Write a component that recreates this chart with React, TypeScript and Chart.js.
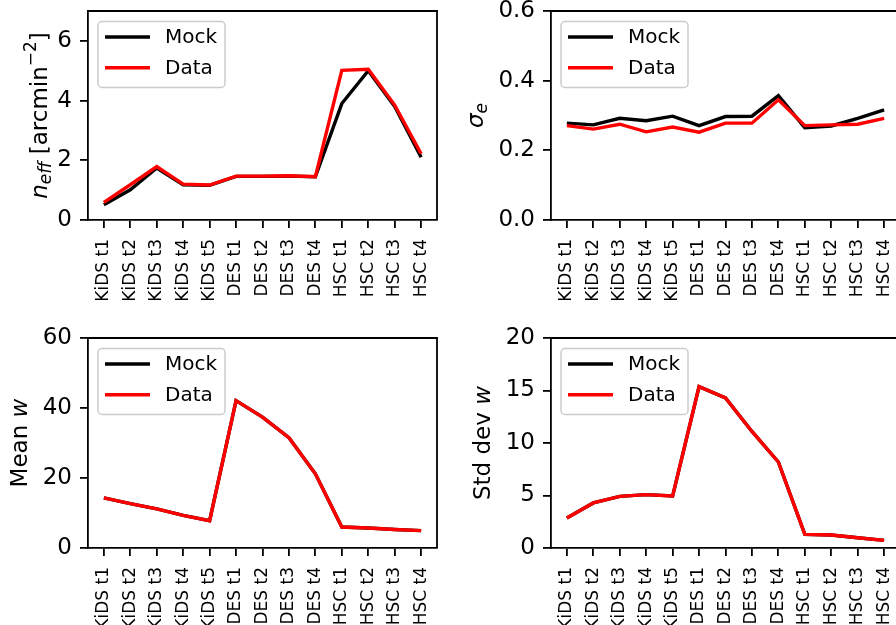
import React, { useEffect, useRef } from 'react';
import { Chart, registerables } from 'chart.js';

Chart.register(...registerables);

const FONT = "'DejaVu Sans', 'Liberation Sans', sans-serif";

const categories = [
  'KiDS t1', 'KiDS t2', 'KiDS t3', 'KiDS t4', 'KiDS t5',
  'DES t1', 'DES t2', 'DES t3', 'DES t4',
  'HSC t1', 'HSC t2', 'HSC t3', 'HSC t4',
];

const neffMock = [0.51, 1.01, 1.74, 1.18, 1.16, 1.46, 1.46, 1.47, 1.45, 3.9, 5.0, 3.8, 2.1];
const neffData = [0.59, 1.18, 1.79, 1.2, 1.17, 1.47, 1.47, 1.48, 1.45, 5.01, 5.05, 3.85, 2.22];
const neffTicks = [0, 2, 4, 6];

const sigmaMock = [0.278, 0.273, 0.292, 0.285, 0.298, 0.271, 0.297, 0.298, 0.357, 0.265, 0.27, 0.292, 0.316];
const sigmaData = [0.271, 0.261, 0.275, 0.253, 0.267, 0.252, 0.278, 0.278, 0.345, 0.271, 0.273, 0.275, 0.292];
const sigmaTicks = [0, 0.2, 0.4, 0.6];

const meanWMock = [14.3, 12.7, 11.2, 9.3, 7.8, 42.1, 37.4, 31.5, 21.2, 6.0, 5.7, 5.3, 4.95];
const meanWData = [14.3, 12.7, 11.2, 9.3, 7.8, 42.1, 37.4, 31.5, 21.2, 6.0, 5.7, 5.3, 4.95];
const meanWTicks = [0, 20, 40, 60];

const stdWMock = [2.86, 4.29, 4.92, 5.08, 4.95, 15.37, 14.29, 11.1, 8.19, 1.3, 1.24, 0.98, 0.73];
const stdWData = [2.86, 4.29, 4.92, 5.08, 4.95, 15.37, 14.29, 11.1, 8.19, 1.3, 1.24, 0.98, 0.73];
const stdWTicks = [0, 5, 10, 15, 20];

const seriesLabels = ['Mock', 'Data'];
const seriesColors = ['#000000', '#ff0000'];

type Part = { text: string; italic?: boolean; size?: number; shift?: number };

interface PanelProps {
  left: number;
  top: number;
  width: number;
  height: number;
  yAxisW: number;
  xAxisH: number;
  padTop: number;
  padRight: number;
  yMin: number;
  yMax: number;
  yTicks: number[];
  decimals: number;
  mock: number[];
  data: number[];
  title: Part[];
  titleX: number;
}

function Panel(p: PanelProps) {
  const ref = useRef<HTMLCanvasElement>(null);

  useEffect(() => {
    const canvas = ref.current;
    if (!canvas) return;

    const decorPlugin = {
      id: 'decor',
      afterDraw(chart: any) {
        const ctx = chart.ctx as CanvasRenderingContext2D;
        const a = chart.chartArea;
        ctx.save();
        // top & right spines
        ctx.strokeStyle = '#000';
        ctx.lineWidth = 1.8;
        ctx.beginPath();
        ctx.moveTo(a.left, a.top);
        ctx.lineTo(a.right, a.top);
        ctx.lineTo(a.right, a.bottom);
        ctx.stroke();

        // legend
        const bx = a.left + 10;
        const by = a.top + 10.5;
        const bw = 127;
        const bh = 66;
        ctx.beginPath();
        (ctx as any).roundRect(bx, by, bw, bh, 4);
        ctx.fillStyle = 'rgba(255,255,255,0.8)';
        ctx.fill();
        ctx.strokeStyle = '#cccccc';
        ctx.lineWidth = 1.5;
        ctx.stroke();
        chart.data.datasets.forEach((ds: any, i: number) => {
          const ly = by + 15.5 + i * 30.7;
          ctx.beginPath();
          ctx.strokeStyle = ds.borderColor;
          ctx.lineWidth = 3.4;
          ctx.moveTo(bx + 7, ly);
          ctx.lineTo(bx + 52, ly);
          ctx.stroke();
          ctx.fillStyle = '#000';
          ctx.font = `20px ${FONT}`;
          ctx.textAlign = 'left';
          ctx.textBaseline = 'middle';
          ctx.fillText(ds.label, bx + 67, ly + 1);
        });

        // y-axis title (rotated)
        const fontFor = (pt: Part) => `${pt.italic ? 'italic ' : ''}${pt.size ?? 23}px ${FONT}`;
        let total = 0;
        p.title.forEach((pt) => {
          ctx.font = fontFor(pt);
          total += ctx.measureText(pt.text).width;
        });
        const cy = (a.top + a.bottom) / 2;
        ctx.translate(p.titleX, cy);
        ctx.rotate(-Math.PI / 2);
        ctx.textAlign = 'left';
        ctx.textBaseline = 'alphabetic';
        ctx.fillStyle = '#000';
        let x = -total / 2;
        p.title.forEach((pt) => {
          ctx.font = fontFor(pt);
          ctx.fillText(pt.text, x, pt.shift ?? 0);
          x += ctx.measureText(pt.text).width;
        });
        ctx.restore();
      },
    };

    const series = [p.mock, p.data];
    const chart = new Chart(canvas, {
      type: 'line',
      data: {
        datasets: series.map((vals, si) => ({
          label: seriesLabels[si],
          data: vals.map((v, i) => ({ x: i, y: v })),
          borderColor: seriesColors[si],
          backgroundColor: seriesColors[si],
          borderWidth: 3.4,
          pointRadius: 0,
          tension: 0,
          fill: false,
          order: si === 0 ? 1 : 0,
        })),
      },
      options: {
        responsive: false,
        animation: false,
        events: [],
        layout: { padding: { top: p.padTop, right: p.padRight, left: 0, bottom: 0 } },
        plugins: { legend: { display: false }, tooltip: { enabled: false } },
        scales: {
          x: {
            type: 'linear',
            min: -0.6,
            max: 12.6,
            afterBuildTicks: (s: any) => {
              s.ticks = categories.map((_, i) => ({ value: i }));
            },
            afterFit: (s: any) => {
              s.height = p.xAxisH;
              s.paddingLeft = 0;
              s.paddingRight = 0;
            },
            ticks: {
              autoSkip: false,
              minRotation: 90,
              maxRotation: 90,
              padding: 11,
              color: '#000',
              font: { family: FONT, size: 17 },
              callback: (v: any) => categories[Math.round(Number(v))],
            },
            grid: {
              display: true,
              drawOnChartArea: false,
              drawTicks: true,
              tickLength: 8,
              color: '#000',
              lineWidth: 1.8,
            },
            border: { display: true, color: '#000', width: 1.8 },
          },
          y: {
            type: 'linear',
            min: p.yMin,
            max: p.yMax,
            afterBuildTicks: (s: any) => {
              s.ticks = p.yTicks.map((v) => ({ value: v }));
            },
            afterFit: (s: any) => {
              s.width = p.yAxisW;
              s.paddingTop = 0;
              s.paddingBottom = 0;
            },
            ticks: {
              autoSkip: false,
              padding: 8,
              color: '#000',
              font: { family: FONT, size: 23 },
              callback: (v: any) => Number(v).toFixed(p.decimals),
            },
            grid: {
              display: true,
              drawOnChartArea: false,
              drawTicks: true,
              tickLength: 8,
              color: '#000',
              lineWidth: 1.8,
            },
            border: { display: true, color: '#000', width: 1.8 },
          },
        },
      } as any,
      plugins: [decorPlugin],
    });
    return () => chart.destroy();
  }, []);

  return (
    <canvas
      ref={ref}
      width={p.width}
      height={p.height}
      style={{
        position: 'absolute',
        left: p.left,
        top: p.top,
        width: p.width,
        height: p.height,
        display: 'block',
      }}
    />
  );
}

export default function App() {
  return (
    <div
      style={{
        position: 'absolute',
        left: 0,
        top: 0,
        width: 896,
        height: 625,
        overflow: 'hidden',
        background: '#fff',
      }}
    >
      <Panel
        left={0}
        top={0}
        width={448}
        height={320}
        yAxisW={88}
        xAxisH={100}
        padTop={11}
        padRight={11}
        yMin={0}
        yMax={7}
        yTicks={neffTicks}
        decimals={0}
        mock={neffMock}
        data={neffData}
        title={[
          { text: 'n', italic: true },
          { text: 'eff', italic: true, size: 17, shift: 4 },
          { text: ' [arcmin' },
          { text: '\u22122', size: 17, shift: -11 },
          { text: ']' },
        ]}
        titleX={46.5}
      />
      <Panel
        left={448}
        top={0}
        width={460}
        height={320}
        yAxisW={103}
        xAxisH={100}
        padTop={11}
        padRight={8}
        yMin={0}
        yMax={0.6}
        yTicks={sigmaTicks}
        decimals={1}
        mock={sigmaMock}
        data={sigmaData}
        title={[
          { text: '\u03c3', italic: true },
          { text: 'e', italic: true, size: 17, shift: 4 },
        ]}
        titleX={35}
      />
      <Panel
        left={0}
        top={320}
        width={448}
        height={305}
        yAxisW={88}
        xAxisH={77}
        padTop={18}
        padRight={11}
        yMin={0}
        yMax={60}
        yTicks={meanWTicks}
        decimals={0}
        mock={meanWMock}
        data={meanWData}
        title={[{ text: 'Mean ' }, { text: 'w', italic: true }]}
        titleX={27}
      />
      <Panel
        left={448}
        top={320}
        width={460}
        height={305}
        yAxisW={103}
        xAxisH={77}
        padTop={18}
        padRight={8}
        yMin={0}
        yMax={20}
        yTicks={stdWTicks}
        decimals={0}
        mock={stdWMock}
        data={stdWData}
        title={[{ text: 'Std dev ' }, { text: 'w', italic: true }]}
        titleX={42}
      />
    </div>
  );
}
